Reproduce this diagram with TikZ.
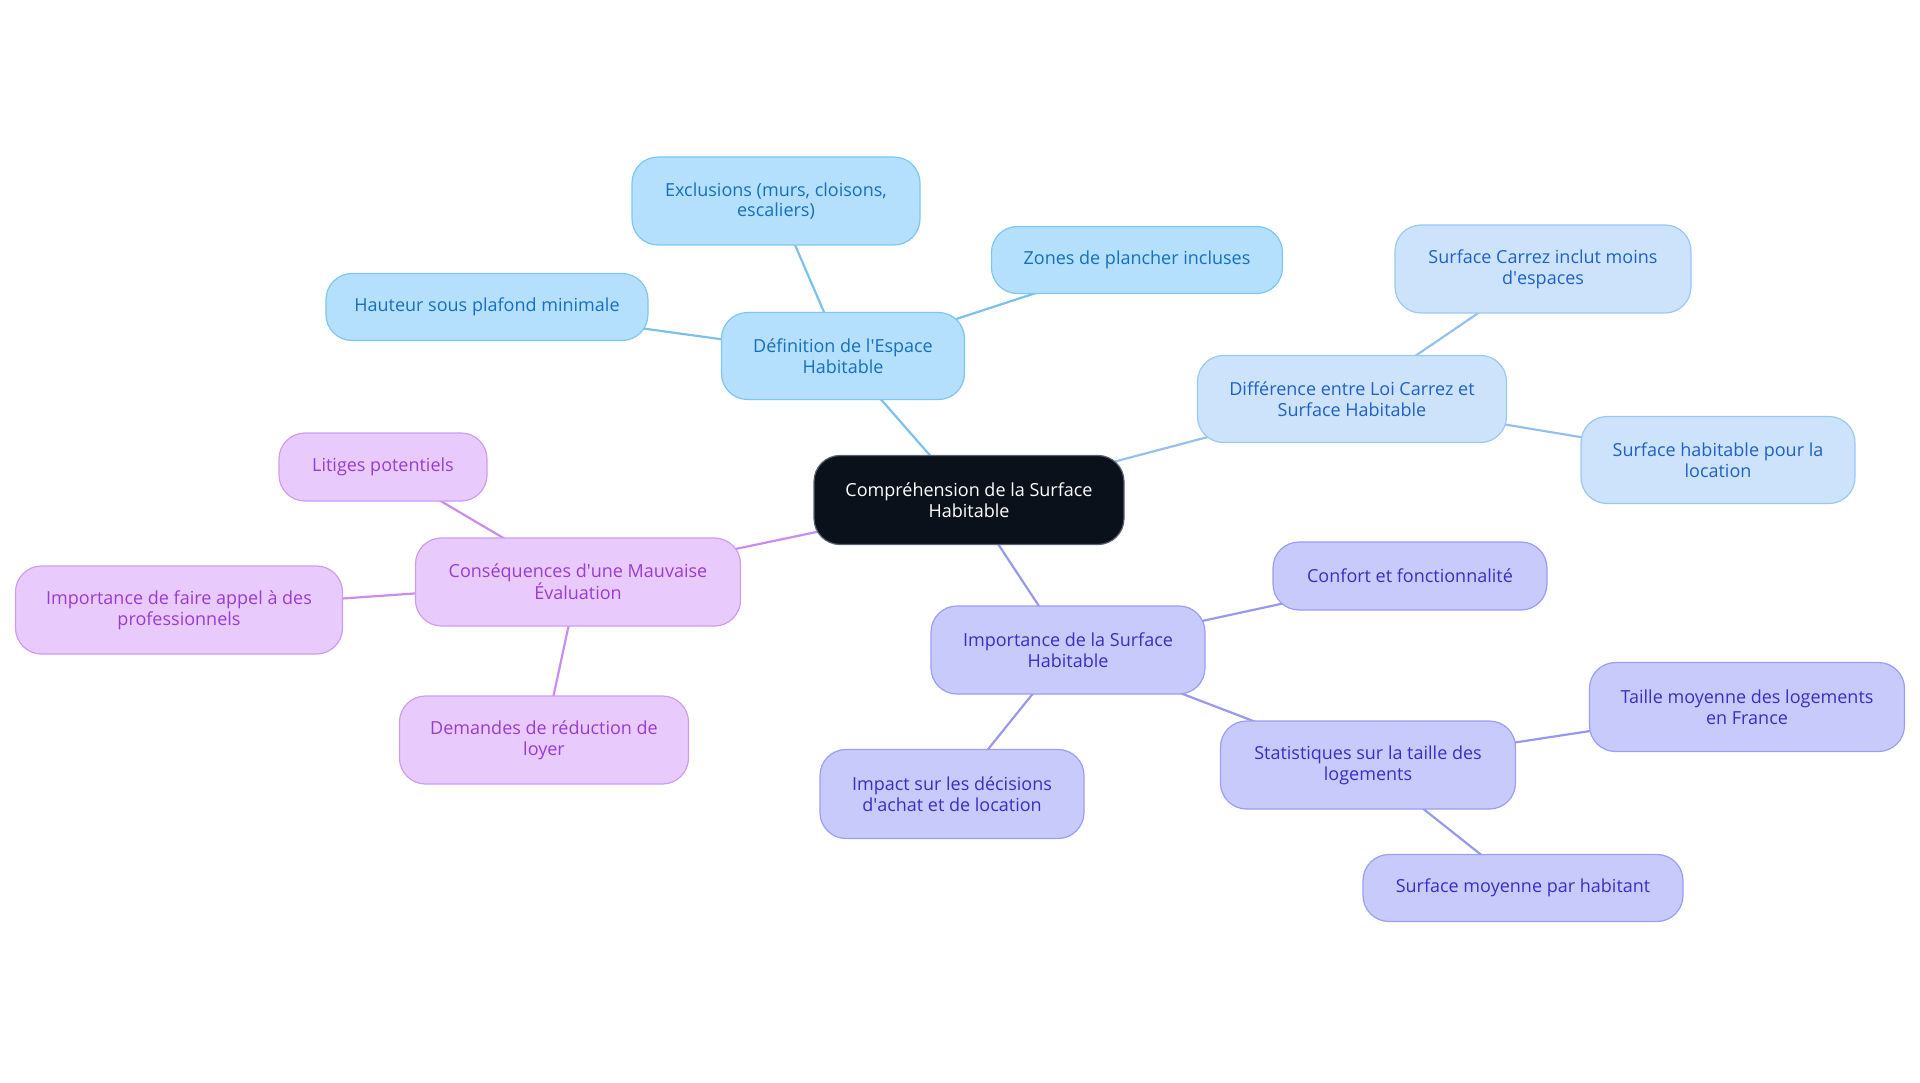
\documentclass[tikz,border=0pt]{standalone}
\usepackage{fontspec}
\setmainfont{Open Sans}
\usetikzlibrary{backgrounds}
\newcommand{\apos}{\textquotesingle}

\definecolor{rootfill}{HTML}{0B111A}
\definecolor{rootdraw}{HTML}{5A6270}
% branch palettes: fill / border / text / link
\definecolor{skyfill}{HTML}{B4E0FD}
\definecolor{skydraw}{HTML}{7EC6F3}
\definecolor{skytext}{HTML}{1670BF}
\definecolor{skylink}{HTML}{7CC1EE}
\definecolor{palefill}{HTML}{CDE3FB}
\definecolor{paledraw}{HTML}{9DC7F3}
\definecolor{paletext}{HTML}{1F62C6}
\definecolor{palelink}{HTML}{95C0EF}
\definecolor{perifill}{HTML}{C8CAFC}
\definecolor{peridraw}{HTML}{9B9EF3}
\definecolor{peritext}{HTML}{3A2FC4}
\definecolor{perilink}{HTML}{9899EE}
\definecolor{lilacfill}{HTML}{E8CBFC}
\definecolor{lilacdraw}{HTML}{CF9CF3}
\definecolor{lilactext}{HTML}{9A3CD2}
\definecolor{lilaclink}{HTML}{C88EEF}

\tikzset{
  box/.style={rounded corners=26pt, line width=1.2pt, align=center,
    inner sep=0pt, font=\fontsize{18}{20.8}\selectfont},
  rootbox/.style={box, fill=rootfill, draw=rootdraw, text=white},
  sky/.style={box, fill=skyfill, draw=skydraw, text=skytext},
  pale/.style={box, fill=palefill, draw=paledraw, text=paletext},
  peri/.style={box, fill=perifill, draw=peridraw, text=peritext},
  lilac/.style={box, fill=lilacfill, draw=lilacdraw, text=lilactext},
  link/.style={line width=2.2pt},
}

\begin{document}
\begin{tikzpicture}[x=1pt, y=-1pt]
\useasboundingbox (0,0) rectangle (1920,1083);

% central topic
\node[rootbox, minimum width=310pt, minimum height=89pt] (root) at (969,500)
  {Compréhension de la Surface\\Habitable};

% first branch
\node[sky, minimum width=243pt, minimum height=87pt] (def) at (843,356)
  {Définition de l\apos Espace\\Habitable};
\node[sky, minimum width=288pt, minimum height=88pt] (excl) at (776,201)
  {Exclusions (murs, cloisons,\\escaliers)};
\node[sky, minimum width=291pt, minimum height=67pt] (zones) at (1137,260)
  {Zones de plancher incluses};
\node[sky, minimum width=322pt, minimum height=67pt] (haut) at (487,307)
  {Hauteur sous plafond minimale};

% second branch
\node[pale, minimum width=309pt, minimum height=87pt] (diff) at (1352,399)
  {Différence entre Loi Carrez et\\Surface Habitable};
\node[pale, minimum width=296pt, minimum height=88pt] (carrez) at (1543,269)
  {Surface Carrez inclut moins\\d\apos espaces};
\node[pale, minimum width=274pt, minimum height=87pt] (loc) at (1718,460)
  {Surface habitable pour la\\location};

% third branch
\node[lilac, minimum width=325pt, minimum height=88pt] (cons) at (578,582)
  {Conséquences d\apos une Mauvaise\\Évaluation};
\node[lilac, minimum width=208pt, minimum height=68pt] (lit) at (383,467)
  {Litiges potentiels};
\node[lilac, minimum width=327pt, minimum height=88pt] (pro) at (179,610)
  {Importance de faire appel à des\\professionnels};
\node[lilac, minimum width=289pt, minimum height=88pt] (loyer) at (544,740)
  {Demandes de réduction de\\loyer};

% fourth branch
\node[peri, minimum width=274pt, minimum height=88pt] (imp) at (1068,650)
  {Importance de la Surface\\Habitable};
\node[peri, minimum width=274pt, minimum height=68pt] (confort) at (1410,576)
  {Confort et fonctionnalité};
\node[peri, minimum width=264pt, minimum height=89pt] (impact) at (952,794)
  {Impact sur les décisions\\d\apos achat et de location};
\node[peri, minimum width=295pt, minimum height=88pt] (stat) at (1368,765)
  {Statistiques sur la taille des\\logements};
\node[peri, minimum width=315pt, minimum height=89pt] (taille) at (1747,707)
  {Taille moyenne des logements\\en France};
\node[peri, minimum width=320pt, minimum height=67pt] (moy) at (1523,888)
  {Surface moyenne par habitant};

% links run centre to centre, hidden under the opaque boxes
\begin{scope}[on background layer]
  \draw[link, skylink] (root.center) -- (def.center);
  \draw[link, skylink] (def.center) -- (excl.center);
  \draw[link, skylink] (def.center) -- (zones.center);
  \draw[link, skylink] (def.center) -- (haut.center);
  \draw[link, palelink] (root.center) -- (diff.center);
  \draw[link, palelink] (diff.center) -- (carrez.center);
  \draw[link, palelink] (diff.center) -- (loc.center);
  \draw[link, lilaclink] (root.center) -- (cons.center);
  \draw[link, lilaclink] (cons.center) -- (lit.center);
  \draw[link, lilaclink] (cons.center) -- (pro.center);
  \draw[link, lilaclink] (cons.center) -- (loyer.center);
  \draw[link, perilink] (root.center) -- (imp.center);
  \draw[link, perilink] (imp.center) -- (confort.center);
  \draw[link, perilink] (imp.center) -- (impact.center);
  \draw[link, perilink] (imp.center) -- (stat.center);
  \draw[link, perilink] (stat.center) -- (taille.center);
  \draw[link, perilink] (stat.center) -- (moy.center);
\end{scope}
\end{tikzpicture}
\end{document}
